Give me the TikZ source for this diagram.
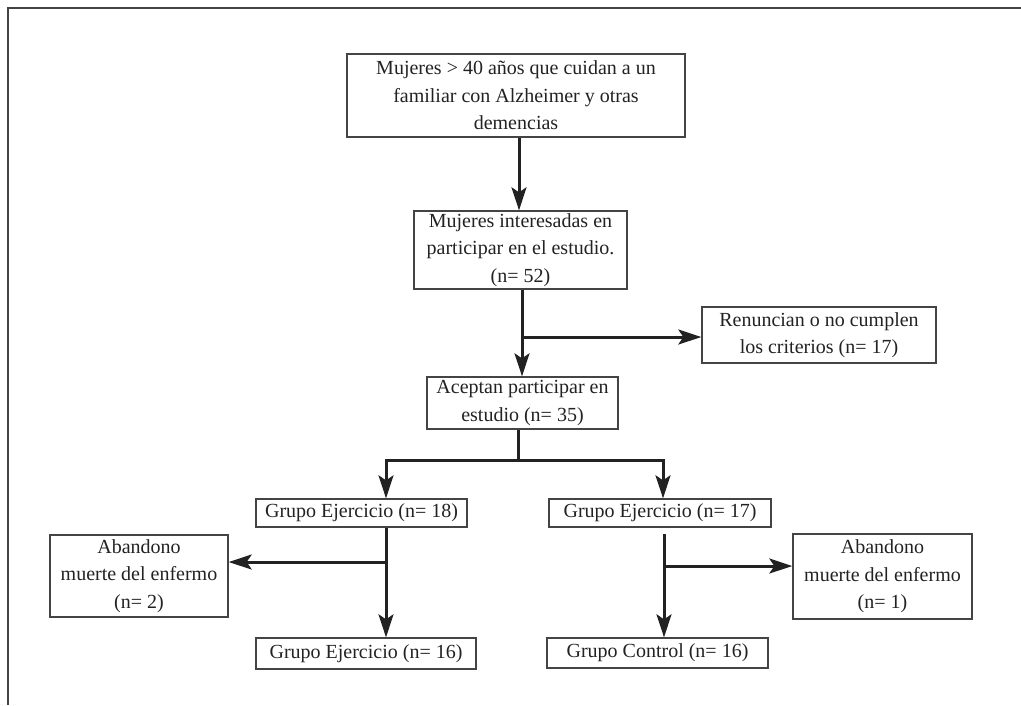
\documentclass[tikz,border=0pt]{standalone}
\usepackage{fontspec}
\setmainfont{Liberation Serif}
\usetikzlibrary{arrows.meta}
\definecolor{ink}{HTML}{222222}
\definecolor{boxline}{HTML}{444444}
\tikzset{
  box/.style={draw=boxline, line width=1.3pt, rectangle, align=center, inner sep=0pt,
    font=\fontsize{20}{27.5}\selectfont, text=ink},
  conn/.style={draw=ink, line width=3pt},
  arr/.style={conn, -{Stealth[length=23pt,width=15pt,inset=5pt]}},
  frameline/.style={draw=ink!85, line width=2pt}
}
\begin{document}
\begin{tikzpicture}[x=1pt,y=-1pt]
\useasboundingbox (0,0) rectangle (1021,705);
% frame
\coordinate (fTR) at (1021,8);
\coordinate (fTL) at (8,8);
\coordinate (fBL) at (8,705);
\draw[frameline] (fTR) -- (fTL) -- (fBL);

\node[box, minimum width=338pt, minimum height=83pt] (top) at (516,95.5)
  {Mujeres > 40 años que cuidan a un\\familiar con Alzheimer y otras\\demencias};
\node[box, minimum width=213pt, minimum height=78pt] (int) at (520.5,250)
  {Mujeres interesadas en\\participar en el estudio.\\(n= 52)};
\node[box, minimum width=234pt, minimum height=56pt] (ren) at (819,335)
  {Renuncian o no cumplen\\los criterios (n= 17)};
\node[box, minimum width=191pt, minimum height=52pt] (ace) at (522.5,403)
  {Aceptan participar en\\estudio (n= 35)};
\node[box, minimum width=211pt, minimum height=28pt] (g18) at (361.5,513)
  {Grupo Ejercicio (n= 18)};
\node[box, minimum width=222pt, minimum height=28pt] (g17) at (660,513)
  {Grupo Ejercicio (n= 17)};
\node[box, minimum width=178pt, minimum height=82pt] (abL) at (139,576)
  {Abandono\\muerte del enfermo\\(n= 2)};
\node[box, minimum width=179pt, minimum height=85pt] (abR) at (882.5,576.5)
  {Abandono\\muerte del enfermo\\(n= 1)};
\node[box, minimum width=220pt, minimum height=31pt] (g16) at (366,653.5)
  {Grupo Ejercicio (n= 16)};
\node[box, minimum width=221pt, minimum height=30pt] (gc) at (657.5,653)
  {Grupo Control (n= 16)};

% connectors
\draw[arr] (top.south -| 519,0) -- (int.north -| 519,0);
\draw[arr] (int.south -| 522,0) -- (ace.north -| 522,0);
\coordinate (b1) at (522,337);
\draw[arr] (b1) -- (b1 -| ren.west);
\coordinate (s1) at (518,460);
\draw[conn] (ace.south -| s1) -- (s1);
\draw[arr] (s1) -| (g18.north -| 386,0);
\draw[arr] (s1) -| (g17.north -| 663,0);
\draw[arr] (g18.south -| 386,0) -- (g16.north -| 386,0);
\coordinate (b2) at (386,562);
\draw[arr] (b2) -- (b2 -| abL.east);
\coordinate (s2) at (664,534);
\draw[arr] (s2) -- (g16.north -| 664,0);
\coordinate (b3) at (664,566);
\draw[arr] (b3) -- (b3 -| abR.west);
\end{tikzpicture}
\end{document}
